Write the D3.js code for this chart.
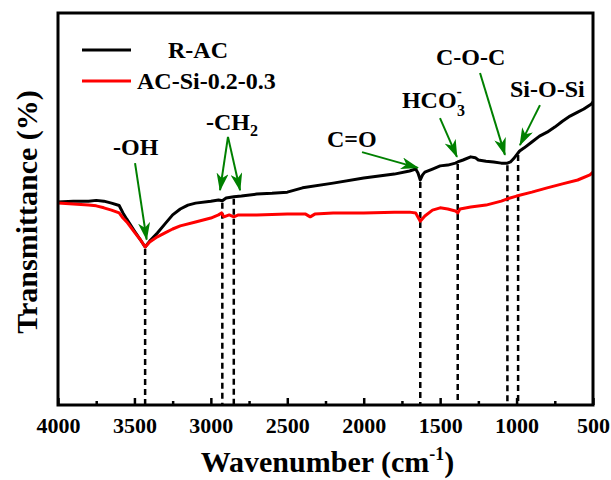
<!DOCTYPE html>
<html>
<head>
<meta charset="utf-8">
<script src="https://cdn.jsdelivr.net/npm/d3@7"></script>
<style>
  body { margin: 0; background: #fff; }
  svg text { font-family: "Liberation Serif", "Times New Roman", serif; font-weight: bold; fill: #000; }
</style>
</head>
<body>
<div id="chart"></div>
<script>
// FTIR spectra, [wavenumber, transmittance (a.u.)]
const racData = [
  [4000, 51.8], [3900, 52.0], [3800, 52.0], [3750, 52.2], [3700, 52.0], [3650, 51.5],
  [3600, 50.9], [3575, 49.0], [3550, 47.4], [3500, 44.4], [3460, 42.1], [3430, 40.3],
  [3400, 41.8], [3350, 43.9], [3300, 46.2], [3250, 48.5], [3200, 50.0], [3150, 51.0],
  [3100, 51.5], [3000, 52.0], [2950, 52.3], [2925, 52.1], [2900, 52.8], [2850, 53.1],
  [2800, 53.3], [2700, 53.8], [2600, 54.0], [2500, 54.3], [2400, 55.4], [2200, 56.6],
  [2000, 57.9], [1800, 58.9], [1700, 59.7], [1660, 60.2], [1645, 59.2], [1630, 57.4],
  [1615, 58.7], [1600, 59.4], [1550, 60.2], [1500, 61.0], [1450, 61.2], [1400, 61.7],
  [1385, 62.0], [1350, 62.5], [1300, 63.3], [1270, 63.1], [1250, 62.5], [1200, 62.2],
  [1150, 62.0], [1100, 61.7], [1060, 61.7], [1040, 62.0], [1020, 62.8], [1000, 63.8],
  [980, 64.8], [950, 65.6], [900, 67.1], [850, 68.6], [800, 69.6], [750, 70.9],
  [700, 72.4], [650, 73.7], [600, 74.7], [560, 75.5], [530, 76.3], [510, 76.8], [500, 77.3]
];
const acSiData = [
  [4000, 51.5], [3900, 51.3], [3800, 51.0], [3750, 50.8], [3700, 50.3], [3650, 49.7],
  [3600, 49.0], [3575, 47.7], [3550, 46.7], [3500, 44.1], [3460, 42.1], [3430, 40.3],
  [3400, 41.6], [3350, 42.9], [3300, 43.9], [3250, 44.9], [3200, 45.7], [3100, 46.7],
  [3000, 47.7], [2950, 48.5], [2930, 49.0], [2915, 48.0], [2880, 48.5], [2850, 48.0],
  [2820, 48.5], [2700, 48.5], [2500, 48.7], [2380, 48.7], [2350, 48.0], [2320, 48.7],
  [2200, 49.0], [2000, 49.0], [1800, 49.2], [1700, 49.2], [1660, 49.0], [1630, 46.9],
  [1600, 48.2], [1550, 49.7], [1500, 50.3], [1450, 50.0], [1400, 49.5], [1385, 49.0],
  [1370, 50.0], [1300, 50.5], [1200, 51.0], [1100, 52.0], [1060, 52.6], [1000, 53.3],
  [900, 54.3], [800, 55.4], [700, 56.4], [600, 57.4], [520, 58.7], [500, 59.4]
];

const xTicks = [4000, 3500, 3000, 2500, 2000, 1500, 1000, 500];
const xMinorTicks = [3750, 3250, 2750, 2250, 1750, 1250, 750];
const peakWaves = [3430, 2925, 2850, 1630, 1385, 1060, 990];

const seriesNames = ['R-AC', 'AC-Si-0.2-0.3'];
const seriesColors = ['#000000', '#ff0000'];

// label: text, subscript, superscript, start wavenumber, baseline value
const peakLabels = [
  { text: '-OH', w: 3640, t: 63.8 },
  { text: '-CH', sub: '2', w: 3032, t: 70.2 },
  { text: 'C=O', w: 2240, t: 65.8 },
  { text: 'HCO', sub: '3', sup: '-', w: 1750, t: 75.8 },
  { text: 'C-O-C', w: 1527, t: 86.7 },
  { text: 'Si-O-Si', w: 1043, t: 78.6 }
];
// arrows: [from w, from t, to w, to t]
const peakArrows = [
  [3496, 61.7, 3420, 42.2],
  [2888, 68.4, 2940, 54.8],
  [2888, 68.4, 2809, 54.8],
  [2011, 64.5, 1645, 60.5],
  [1501, 73.2, 1390, 63.3],
  [1239, 84.7, 1076, 63.8],
  [847, 76.5, 978, 66.3]
];

const width = 611, height = 480;
const margin = { top: 13, right: 18, bottom: 75, left: 58 };

const svg = d3.select('#chart').append('svg')
  .attr('width', width)
  .attr('height', height);

const x = d3.scaleLinear().domain([4000, 500]).range([margin.left, width - margin.right]);
const y = d3.scaleLinear().domain([0, 100]).range([height - margin.bottom, margin.top]);

const defs = svg.append('defs');
defs.append('clipPath').attr('id', 'plot-clip')
  .append('rect')
  .attr('x', margin.left).attr('y', margin.top)
  .attr('width', x.range()[1] - margin.left)
  .attr('height', y.range()[0] - margin.top);

defs.append('marker')
  .attr('id', 'arrow')
  .attr('viewBox', '0 0 18 12')
  .attr('refX', 17)
  .attr('refY', 6)
  .attr('markerWidth', 18)
  .attr('markerHeight', 12)
  .attr('markerUnits', 'userSpaceOnUse')
  .attr('orient', 'auto')
  .append('path')
  .attr('d', 'M0,0 L18,6 L0,12 L5,6 Z')
  .attr('fill', '#008000');

// dashed guide lines from the R-AC curve down to the axis
const racInterp = w => {
  const i = racData.findIndex(d => d[0] <= w);
  if (i <= 0) return racData[0][1];
  const a = racData[i - 1], b = racData[i];
  return a[1] + (b[1] - a[1]) * (a[0] - w) / (a[0] - b[0]);
};
svg.append('g').selectAll('line')
  .data(peakWaves)
  .join('line')
  .attr('x1', d => x(d)).attr('x2', d => x(d))
  .attr('y1', d => y(racInterp(d)) + 2)
  .attr('y2', y(0))
  .attr('stroke', '#000')
  .attr('stroke-width', 2.5)
  .attr('stroke-dasharray', '6,4');

const line = d3.line().x(d => x(d[0])).y(d => y(d[1]));
const plot = svg.append('g').attr('clip-path', 'url(#plot-clip)');
[racData, acSiData].forEach((data, i) => {
  plot.append('path')
    .datum(data)
    .attr('d', line)
    .attr('fill', 'none')
    .attr('stroke', seriesColors[i])
    .attr('stroke-width', 3)
    .attr('stroke-linejoin', 'round');
});

// bottom axis, ticks pointing inward
const axisG = svg.append('g').attr('transform', `translate(0,${y(0)})`);
axisG.call(d3.axisBottom(x).tickValues(xTicks).tickSizeInner(-7).tickSizeOuter(0).tickFormat(d3.format('d')));
axisG.selectAll('text').attr('y', 28).attr('dy', null).style('font-size', '22px');
axisG.selectAll('line').attr('stroke-width', 2.5);
axisG.select('.domain').remove();

const minorG = svg.append('g').attr('transform', `translate(0,${y(0)})`);
minorG.call(d3.axisBottom(x).tickValues(xMinorTicks).tickSizeInner(-4).tickSizeOuter(0).tickFormat(''));
minorG.selectAll('line').attr('stroke-width', 2.5);
minorG.select('.domain').remove();

// frame
svg.append('rect')
  .attr('x', margin.left).attr('y', margin.top)
  .attr('width', x.range()[1] - margin.left)
  .attr('height', y.range()[0] - margin.top)
  .attr('fill', 'none')
  .attr('stroke', '#000')
  .attr('stroke-width', 3);

// axis titles
const xTitle = svg.append('text')
  .attr('x', (margin.left + x.range()[1]) / 2 + 2)
  .attr('y', 472)
  .attr('text-anchor', 'middle')
  .style('font-size', '30px');
xTitle.append('tspan').text('Wavenumber (cm');
xTitle.append('tspan').text('-1').attr('dy', -12).style('font-size', '18px');
xTitle.append('tspan').text(')').attr('dy', 12);

svg.append('text')
  .attr('transform', `translate(37,${(margin.top + y.range()[0]) / 2 + 3}) rotate(-90)`)
  .attr('text-anchor', 'middle')
  .style('font-size', '30px')
  .text('Transmittance (%)');

// legend
const legend = svg.append('g');
const legendY = [50, 81];
const legendTextX = [168, 137];
seriesNames.forEach((name, i) => {
  legend.append('line')
    .attr('x1', 82).attr('x2', 131)
    .attr('y1', legendY[i]).attr('y2', legendY[i])
    .attr('stroke', seriesColors[i])
    .attr('stroke-width', 3);
  legend.append('text')
    .attr('x', legendTextX[i])
    .attr('y', legendY[i] + 8)
    .style('font-size', '24px')
    .text(name);
});

// peak annotations
svg.append('g').selectAll('line')
  .data(peakArrows)
  .join('line')
  .attr('x1', d => x(d[0])).attr('y1', d => y(d[1]))
  .attr('x2', d => x(d[2])).attr('y2', d => y(d[3]))
  .attr('stroke', '#008000')
  .attr('stroke-width', 2)
  .attr('marker-end', 'url(#arrow)');

peakLabels.forEach(l => {
  const t = svg.append('text')
    .attr('x', x(l.w))
    .attr('y', y(l.t))
    .style('font-size', '24px');
  t.append('tspan').text(l.text);
  if (l.sup) {
    t.append('tspan').text(l.sup).attr('dy', -11).style('font-size', '16px');
    t.append('tspan').text(l.sub).attr('dx', -5).attr('dy', 19).style('font-size', '16px');
  } else if (l.sub) {
    t.append('tspan').text(l.sub).attr('dy', 6).style('font-size', '16px');
  }
});
</script>
</body>
</html>
